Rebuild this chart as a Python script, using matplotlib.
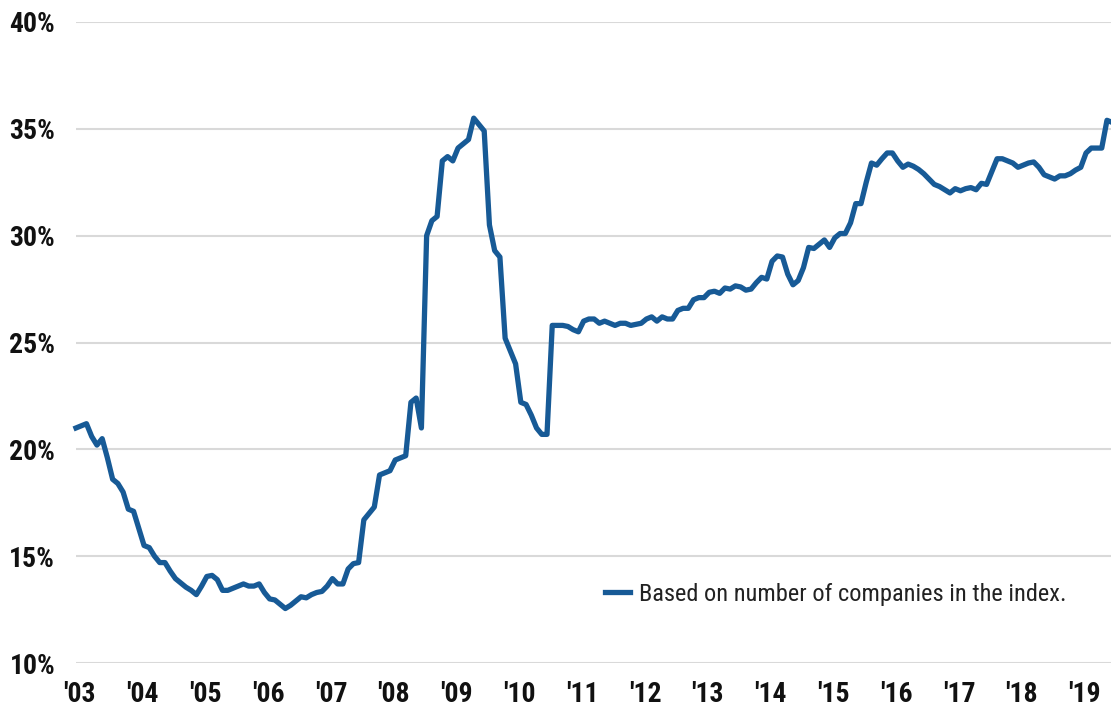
import matplotlib
matplotlib.use("Agg")
import matplotlib.pyplot as plt
from matplotlib import font_manager

# Monthly share (%) starting Jan 2003
values = [
    21.0, 21.1, 21.2, 20.6, 20.2, 20.5, 19.6, 18.6, 18.4, 18.0,
    17.2, 17.1, 16.3, 15.5, 15.4, 15.0, 14.7, 14.7, 14.3, 13.95,
    13.75, 13.55, 13.4, 13.2, 13.6, 14.05, 14.1, 13.9, 13.4, 13.4,
    13.5, 13.6, 13.7, 13.6, 13.6, 13.7, 13.3, 13.0, 12.95, 12.75,
    12.55, 12.7, 12.9, 13.1, 13.05, 13.2, 13.3, 13.35, 13.6, 13.95,
    13.7, 13.7, 14.4, 14.65, 14.7, 16.7, 17.0, 17.3, 18.8, 18.9,
    19.0, 19.5, 19.6, 19.7, 22.2, 22.4, 21.0, 30.0, 30.7, 30.9,
    33.5, 33.7, 33.5, 34.1, 34.3, 34.5, 35.5, 35.2, 34.9, 30.5,
    29.3, 29.0, 25.2, 24.6, 24.0, 22.2, 22.1, 21.6, 21.0, 20.7,
    20.7, 25.8, 25.8, 25.8, 25.75, 25.6, 25.5, 26.0, 26.1, 26.1,
    25.9, 26.0, 25.9, 25.8, 25.9, 25.9, 25.8, 25.85, 25.9, 26.1,
    26.2, 26.0, 26.2, 26.1, 26.1, 26.5, 26.6, 26.6, 27.0, 27.1,
    27.1, 27.35, 27.4, 27.3, 27.55, 27.5, 27.65, 27.6, 27.45, 27.5,
    27.8, 28.05, 27.97, 28.8, 29.05, 29.0, 28.2, 27.7, 27.9, 28.5,
    29.45, 29.4, 29.6, 29.8, 29.45, 29.9, 30.1, 30.1, 30.6, 31.5,
    31.5, 32.5, 33.4, 33.3, 33.6, 33.87, 33.87, 33.5, 33.2, 33.35,
    33.25, 33.1, 32.9, 32.65, 32.4, 32.3, 32.15, 32.0, 32.2, 32.1,
    32.2, 32.25, 32.15, 32.45, 32.4, 33.0, 33.6, 33.6, 33.5, 33.4,
    33.2, 33.3, 33.4, 33.45, 33.2, 32.85, 32.75, 32.65, 32.8, 32.8,
    32.9, 33.07, 33.2, 33.87, 34.1, 34.1, 34.1, 35.4, 35.3,
]
start_year = 2003
years = list(range(2003, 2020))
year_labels = ["'%02d" % (y % 100) for y in years]
y_ticks = [10, 15, 20, 25, 30, 35, 40]
y_labels = ["%d%%" % v for v in y_ticks]
legend_label = "Based on number of companies in the index."

# pick a condensed font if one exists, else Liberation Sans
available = {f.name for f in font_manager.fontManager.ttflist}
narrow = None
for cand in ["Liberation Sans Narrow", "Arial Narrow", "Roboto Condensed",
             "Open Sans Condensed", "DejaVu Sans Condensed"]:
    if cand in available:
        narrow = cand
        break
if narrow in ("Liberation Sans Narrow", "Arial Narrow", "Roboto Condensed"):
    fam = [narrow, "DejaVu Sans"]
    tick_size, leg_size = 20, 17.6
else:
    fam = ["Liberation Sans", "DejaVu Sans"]
    tick_size, leg_size = 16.3, 15.3

x = [start_year + i / 12 for i in range(len(values))]

W, H = 1111, 716
fig = plt.figure(figsize=(W / 100, H / 100), dpi=100)
ax = fig.add_axes([76 / W, 1 - 663 / H, 1 - 76 / W, (663 - 22) / H])

line_color = "#175a96"
ax.plot(x, values, color=line_color, lw=3.8, solid_joinstyle="round",
        label=legend_label, clip_on=False)

ax.set_ylim(10, 40)
ax.set_xlim(2003, 2003 + (1111 - 76) / 62.8)
ax.set_yticks(y_ticks)
ax.set_yticklabels(y_labels)
ax.set_xticks([y + 0.06 for y in years])
ax.set_xticklabels(year_labels)

for lab in ax.get_yticklabels() + ax.get_xticklabels():
    lab.set_fontfamily(fam)
    lab.set_fontweight("bold")
    lab.set_fontsize(tick_size)
    lab.set_color("#111111")

ax.tick_params(axis="both", length=0)
ax.tick_params(axis="y", pad=15)
ax.tick_params(axis="x", pad=13)
ax.grid(axis="y", color="#d9d9d9", lw=1.5)
ax.set_axisbelow(True)
for s in ax.spines.values():
    s.set_visible(False)

leg = ax.legend(loc="center left", bbox_to_anchor=(595 / W, 1 - 594 / H),
                bbox_transform=fig.transFigure, frameon=False,
                borderaxespad=0, handlelength=1.05, handletextpad=0.35,
                prop=dict(family=fam, size=leg_size))
for t in leg.get_texts():
    t.set_color("#222222")

fig.savefig("out.png", dpi=100)
